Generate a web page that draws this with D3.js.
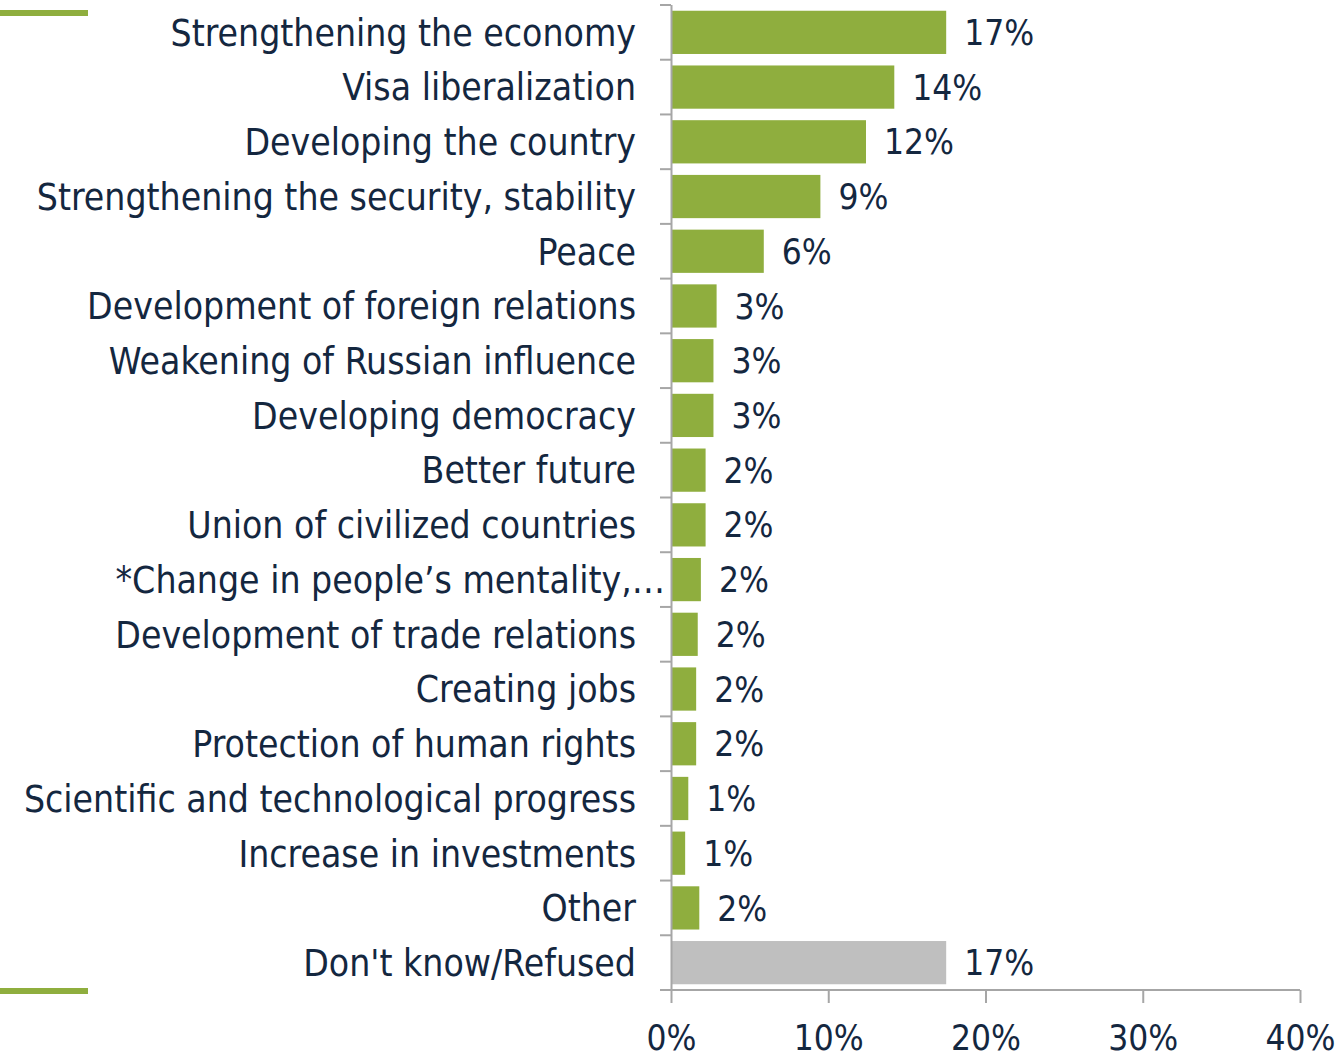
<!DOCTYPE html>
<html>
<head>
<meta charset="utf-8">
<script src="https://cdn.jsdelivr.net/npm/d3@7"></script>
<style>
  body { margin: 0; background: #fff; }
  svg { display: block; }
  text { font-family: "DejaVu Sans Condensed", "DejaVu Sans", sans-serif; fill: #14273f; }
</style>
</head>
<body>
<svg width="1338" height="1058"></svg>
<script>
var categories = [
    "Strengthening the economy",
    "Visa liberalization",
    "Developing the country",
    "Strengthening the security, stability",
    "Peace",
    "Development of foreign relations",
    "Weakening of Russian influence",
    "Developing democracy",
    "Better future",
    "Union of civilized countries",
    "*Change in people\u2019s mentality,\u2026",
    "Development of trade relations",
    "Creating jobs",
    "Protection of human rights",
    "Scientific and technological progress",
    "Increase in investments",
    "Other",
    "Don't know/Refused"
];
var values = [17.5, 14.2, 12.4, 9.5, 5.9, 2.9, 2.7, 2.7, 2.2, 2.2, 1.9, 1.7, 1.6, 1.6, 1.1, 0.9, 1.8, 17.5];
var valueLabels = ["17%", "14%", "12%", "9%", "6%", "3%", "3%", "3%", "2%", "2%", "2%", "2%", "2%", "2%", "1%", "1%", "2%", "17%"];
var tickValues = [0, 10, 20, 30, 40];

var svg = d3.select("svg");

var x = d3.scaleLinear().domain([0, 40]).range([671, 1300]);
var y = d3.scaleBand().domain(categories).range([5, 990]).paddingInner(0.21).paddingOuter(0.105);

// decorative green rules on the left
svg.append("rect").attr("x", 0).attr("y", 10).attr("width", 88).attr("height", 6).attr("fill", "#8fae3e");
svg.append("rect").attr("x", 0).attr("y", 988).attr("width", 88).attr("height", 6).attr("fill", "#8fae3e");

// bars
svg.selectAll("rect.bar")
    .data(categories)
    .enter().append("rect")
    .attr("class", "bar")
    .attr("x", x(0) + 1)
    .attr("y", function (d) { return y(d); })
    .attr("width", function (d, i) { return x(values[i]) - x(0) - 1; })
    .attr("height", y.bandwidth())
    .attr("fill", function (d, i) { return i === categories.length - 1 ? "#bfbfbf" : "#8fae3e"; });

// value labels
svg.selectAll("text.val")
    .data(categories)
    .enter().append("text")
    .attr("class", "val")
    .attr("x", function (d, i) { return x(values[i]) + 18; })
    .attr("y", function (d) { return y(d) + y.bandwidth() / 2; })
    .attr("dy", "0.36em")
    .attr("font-size", 35)
    .text(function (d, i) { return valueLabels[i]; });

// category axis
var bounds = d3.range(categories.length + 1).map(function (i) { return 5 + i * (985 / categories.length); });
svg.append("line")
    .attr("x1", 671.5).attr("x2", 671.5)
    .attr("y1", 5).attr("y2", 990)
    .attr("stroke", "#a6a6a6").attr("stroke-width", 2);
svg.selectAll("line.ytick")
    .data(bounds)
    .enter().append("line")
    .attr("class", "ytick")
    .attr("x1", 660).attr("x2", 671)
    .attr("y1", function (d) { return d; })
    .attr("y2", function (d) { return d; })
    .attr("stroke", "#a6a6a6").attr("stroke-width", 2);

svg.selectAll("text.cat")
    .data(categories)
    .enter().append("text")
    .attr("class", "cat")
    .attr("x", function (d) { return d.charAt(0) === "*" ? 665 : 636; }) // truncated label overflows in the original
    .attr("y", function (d) { return y(d) + y.bandwidth() / 2; })
    .attr("dy", "0.36em")
    .attr("text-anchor", "end")
    .attr("font-size", 37)
    .text(function (d) { return d; });

// value axis
var xAxis = d3.axisBottom(x)
    .tickValues(tickValues)
    .tickSize(13)
    .tickPadding(22)
    .tickFormat(function (d) { return d + "%"; });

var gx = svg.append("g")
    .attr("transform", "translate(0,990)")
    .call(xAxis);
gx.select(".domain").attr("stroke", "#a6a6a6").attr("stroke-width", 2)
    .attr("d", "M660,0H1300");
gx.selectAll(".tick line").attr("stroke", "#a6a6a6").attr("stroke-width", 2);
gx.selectAll(".tick text")
    .attr("font-size", 35)
    .attr("font-family", "DejaVu Sans Condensed, DejaVu Sans, sans-serif")
    .attr("fill", "#14273f");
</script>
</body>
</html>
